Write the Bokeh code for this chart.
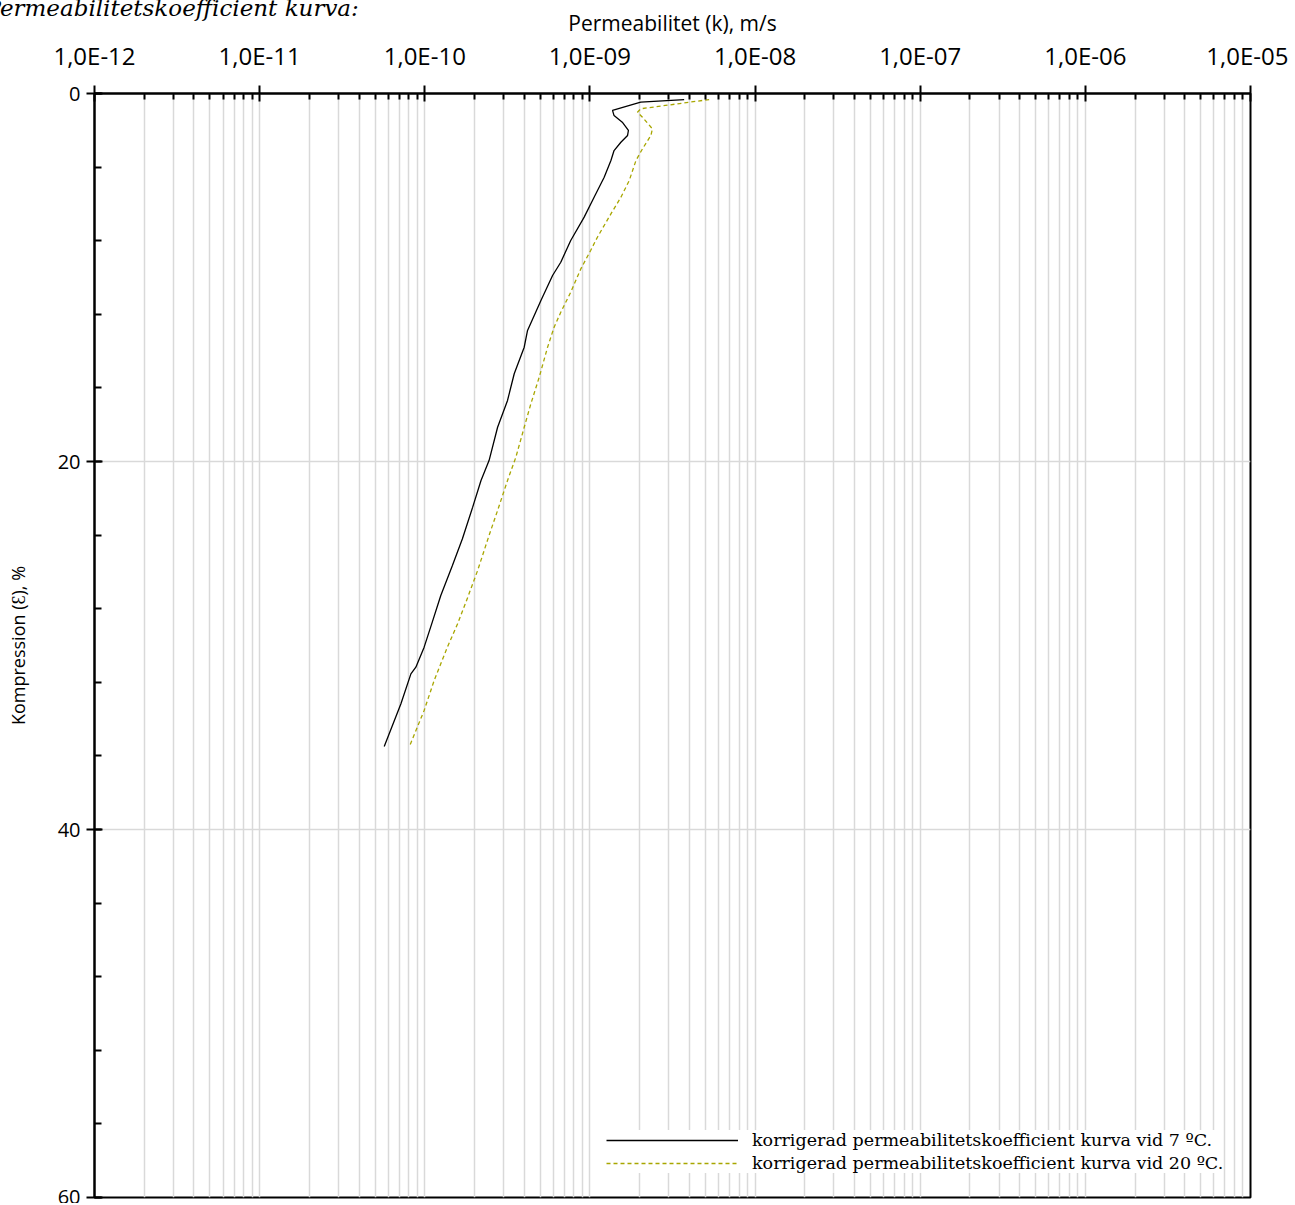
import numpy as np
from bokeh.plotting import figure
from bokeh.models import (Range1d, FixedTicker, Legend, LegendItem, Title,
                          CustomJSTickFormatter, ColumnDataSource)
from bokeh.embed import file_html
from bokeh.resources import INLINE

# ---- data ----
# curve at 7 oC (solid black)
k_7 = [3.72e-9, 2.03e-9, 1.37e-9, 1.40e-9, 1.57e-9, 1.71e-9, 1.69e-9, 1.54e-9,
       1.40e-9, 1.34e-9, 1.22e-9, 1.06e-9, 9.23e-10, 7.65e-10, 6.66e-10, 5.94e-10,
       5.05e-10, 4.19e-10, 4.00e-10, 3.48e-10, 3.17e-10, 2.76e-10, 2.45e-10, 2.19e-10,
       1.95e-10, 1.69e-10, 1.47e-10, 1.25e-10, 1.11e-10, 9.91e-11, 8.83e-11, 8.24e-11,
       7.17e-11, 5.68e-11]
eps_7 = [0.33, 0.47, 0.92, 1.20, 1.56, 2.01, 2.28, 2.65,
         3.10, 3.64, 4.55, 5.64, 6.72, 7.99, 9.17, 9.89,
         11.25, 12.88, 13.79, 15.23, 16.68, 18.14, 19.95, 21.03,
         22.48, 24.20, 25.65, 27.28, 28.73, 30.09, 31.18, 31.54,
         33.17, 35.49]

# curve at 20 oC (dashed olive)
k_20 = [5.27e-9, 2.03e-9, 1.94e-9, 2.08e-9, 2.39e-9, 2.34e-9, 2.08e-9, 1.90e-9,
        1.73e-9, 1.54e-9, 1.34e-9, 1.11e-9, 1.01e-9, 8.81e-10, 7.65e-10, 6.66e-10,
        6.07e-10, 5.54e-10, 4.93e-10, 4.39e-10, 4.00e-10, 3.56e-10, 3.17e-10, 2.76e-10,
        2.45e-10, 2.09e-10, 1.82e-10, 1.58e-10, 1.37e-10, 1.14e-10, 9.91e-11, 8.05e-11]
eps_20 = [0.33, 0.83, 1.02, 1.29, 1.92, 2.28, 3.01, 3.64,
          4.73, 5.64, 6.54, 7.81, 8.53, 9.53, 10.80, 11.89,
          12.70, 13.79, 15.42, 16.86, 18.14, 19.77, 21.03, 22.66,
          24.02, 25.92, 27.38, 28.82, 30.09, 31.90, 33.53, 35.52]

x_ticks = [1e-12, 1e-11, 1e-10, 1e-9, 1e-8, 1e-7, 1e-6, 1e-5]
x_tick_labels = ["1,0E-12", "1,0E-11", "1,0E-10", "1,0E-09",
                 "1,0E-08", "1,0E-07", "1,0E-06", "1,0E-05"]
y_ticks = [0, 20, 40, 60]
y_minor_ticks = [0, 4, 8, 12, 16, 20, 24, 28, 32, 36, 40, 44, 48, 52, 56, 60]

title_text = "Permeabilitetskoefficient kurva:"
x_title = "Permeabilitet (k), m/s"
y_title = "Kompression (\u0190), %"
legend_labels = ["korrigerad permeabilitetskoefficient kurva vid 7 \u00baC.",
                 "korrigerad permeabilitetskoefficient kurva vid 20 \u00baC."]

# ---- figure ----
p = figure(width=1288, height=1203, x_axis_type="log", x_axis_location="above",
           x_range=Range1d(1e-12, 1e-5), y_range=Range1d(60, 0),
           output_backend="svg", toolbar_location=None,
           min_border_left=94, min_border_right=38, min_border_top=93,
           min_border_bottom=6)

minor_x = [m * 10.0 ** e for e in range(-12, -5) for m in range(2, 10)]
xt = FixedTicker(ticks=x_ticks, minor_ticks=minor_x)
p.xaxis.ticker = xt
p.xgrid.ticker = xt
p.xaxis.formatter = CustomJSTickFormatter(args=dict(vals=x_ticks, labels=x_tick_labels), code="""
for (let i = 0; i < vals.length; i++) {
  if (Math.abs(Math.log10(tick) - Math.log10(vals[i])) < 1e-6) return labels[i];
}
return "";
""")
yt = FixedTicker(ticks=y_ticks, minor_ticks=y_minor_ticks)
p.yaxis.ticker = yt
p.ygrid.ticker = FixedTicker(ticks=y_ticks)

for ax in (p.xaxis[0], p.yaxis[0]):
    ax.axis_line_color = "black"
    ax.axis_line_width = 2
    ax.major_tick_line_color = "black"
    ax.major_tick_line_width = 2
    ax.minor_tick_line_color = "black"
    ax.minor_tick_line_width = 2
    ax.major_tick_in = 8
    ax.major_tick_out = 8
    ax.minor_tick_out = 0
    ax.major_label_text_font = "Open Sans"
    ax.major_label_text_color = "black"
    ax.axis_label_text_font = "Open Sans"
    ax.axis_label_text_font_style = "normal"
    ax.axis_label_text_color = "black"

p.xaxis.major_label_text_font_size = "24px"
p.yaxis.major_label_text_font_size = "20px"
p.xaxis.axis_label_text_font_size = "21px"
p.yaxis.axis_label_text_font_size = "18px"
p.xaxis.minor_tick_in = 6
p.yaxis.minor_tick_in = 7
p.xaxis.axis_label = x_title
p.yaxis.axis_label = y_title
p.xaxis.major_label_standoff = 14
p.xaxis.axis_label_standoff = -1
p.yaxis.major_label_standoff = 6
p.yaxis.axis_label_standoff = 25

p.xgrid.grid_line_color = "#d9d9d9"
p.xgrid.grid_line_width = 1.5
p.xgrid.minor_grid_line_color = "#d9d9d9"
p.xgrid.minor_grid_line_width = 1.5
p.ygrid.grid_line_color = "#d9d9d9"
p.ygrid.grid_line_width = 1.5

p.outline_line_color = "black"
p.outline_line_width = 2
p.background_fill_color = "white"
p.border_fill_color = "white"

src7 = ColumnDataSource(dict(k=k_7, eps=eps_7))
src20 = ColumnDataSource(dict(k=k_20, eps=eps_20))
r7 = p.line("k", "eps", source=src7, line_color="black", line_width=1.3)
r20 = p.line("k", "eps", source=src20, line_color="#a8a600", line_width=1.3,
             line_dash="4 3")

legend = Legend(items=[LegendItem(label=legend_labels[0], renderers=[r7]),
                       LegendItem(label=legend_labels[1], renderers=[r20])],
                location=(512, 24), border_line_color=None,
                background_fill_color="white", background_fill_alpha=1.0,
                glyph_width=132, glyph_height=20, label_height=20,
                label_standoff=14, spacing=3, padding=5, margin=0,
                label_text_font="DejaVu Serif", label_text_font_size="17.5px",
                label_text_color="black")
p.add_layout(legend, "center")

title = Title(text=title_text, align="left", offset=-109, standoff=-30,
              vertical_align="bottom", text_font="DejaVu Serif",
              text_font_style="italic", text_font_size="23px",
              text_color="black")
p.add_layout(title, "above")

open("out.html", "w").write(file_html(p, INLINE))
